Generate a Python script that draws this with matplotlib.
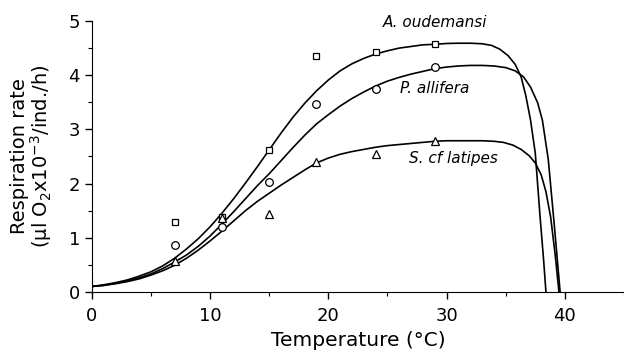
import matplotlib
matplotlib.use("Agg")
import matplotlib.pyplot as plt

# measured points
temp = [7, 11, 15, 19, 24, 29]
resp_oud = [1.29, 1.38, 2.62, 4.35, 4.43, 4.58]
resp_ali = [0.87, 1.20, 2.03, 3.47, 3.74, 4.15]
resp_lat = [0.57, 1.37, 1.44, 2.40, 2.55, 2.79]

# fitted curves
fit_x_oud = [0, 1, 2, 3, 4, 5, 6, 7, 8, 9, 10, 11, 12, 13, 14, 15, 16, 17, 18, 19, 20,
             21, 22, 23, 24, 25, 26, 27, 28, 29, 30, 31, 32, 33, 33.8, 34.5, 35.2, 35.8,
             36.3, 36.7, 37.1, 37.5, 37.9, 38.2, 38.4]
fit_y_oud = [0.10, 0.13, 0.17, 0.22, 0.29, 0.37, 0.48, 0.62, 0.79, 0.98, 1.20, 1.45, 1.72,
             2.01, 2.31, 2.62, 2.93, 3.22, 3.48, 3.71, 3.91, 4.08, 4.21, 4.31, 4.39, 4.45,
             4.50, 4.53, 4.56, 4.57, 4.585, 4.59, 4.59, 4.58, 4.55, 4.48, 4.36, 4.20, 3.97,
             3.62, 3.17, 2.56, 1.40, 0.60, 0.0]

fit_x_ali = [0, 1, 2, 3, 4, 5, 6, 7, 8, 9, 10, 11, 12, 13, 14, 15, 16, 17, 18, 19, 20,
             21, 22, 23, 24, 25, 26, 27, 28, 29, 30, 31, 32, 33, 34, 35, 35.8, 36.5, 37.1,
             37.7, 38.1, 38.6, 39.1, 39.6]
fit_y_ali = [0.10, 0.12, 0.16, 0.20, 0.26, 0.33, 0.43, 0.55, 0.68, 0.84, 1.03, 1.25, 1.48,
             1.72, 1.96, 2.18, 2.42, 2.66, 2.89, 3.10, 3.27, 3.43, 3.57, 3.69, 3.80, 3.89,
             3.96, 4.02, 4.07, 4.12, 4.15, 4.17, 4.18, 4.18, 4.17, 4.14, 4.08, 3.97, 3.78,
             3.49, 3.17, 2.44, 1.25, 0.0]

fit_x_lat = [0, 1, 2, 3, 4, 5, 6, 7, 8, 9, 10, 11, 12, 13, 14, 15, 16, 17, 18, 19, 20,
             21, 22, 23, 24, 25, 26, 27, 28, 29, 30, 31, 32, 33, 34, 34.8, 35.6, 36.3, 37,
             37.5, 38, 38.4, 38.8, 39.2, 39.5]
fit_y_lat = [0.10, 0.12, 0.15, 0.19, 0.24, 0.31, 0.39, 0.49, 0.62, 0.77, 0.94, 1.12, 1.31,
             1.50, 1.67, 1.82, 1.97, 2.11, 2.25, 2.38, 2.47, 2.54, 2.59, 2.63, 2.67, 2.70,
             2.72, 2.74, 2.76, 2.78, 2.79, 2.79, 2.79, 2.79, 2.78, 2.76, 2.71, 2.63, 2.51,
             2.38, 2.16, 1.85, 1.38, 0.65, 0.0]

plt.rcParams["font.family"] = "DejaVu Sans"

fig = plt.figure(figsize=(6.24, 3.5), dpi=100)
ax = fig.add_axes([0.147, 0.166, 0.853, 0.774])

for fx, fy in [(fit_x_oud, fit_y_oud), (fit_x_ali, fit_y_ali), (fit_x_lat, fit_y_lat)]:
    ax.plot(fx, fy, color="black", lw=1.2)

mk = dict(mfc="white", mec="black", mew=0.9, ls="none", zorder=3)
ax.plot(temp, resp_oud, marker="s", ms=5, **mk)
ax.plot(temp, resp_ali, marker="o", ms=5.5, **mk)
ax.plot(temp, resp_lat, marker="^", ms=5.5, **mk)

ax.text(24.6, 4.98, "A. oudemansi", style="italic", fontsize=11, va="center")
ax.text(26.1, 3.76, "P. allifera", style="italic", fontsize=11, va="center")
ax.text(26.8, 2.47, "S. cf latipes", style="italic", fontsize=11, va="center")

ax.set_xlim(0, 45)
ax.set_ylim(0, 5)
ax.set_xticks([0, 10, 20, 30, 40])
ax.set_xticks([5, 15, 25, 35, 45], minor=True)
ax.set_yticks([0, 1, 2, 3, 4, 5])
ax.set_yticks([0.5, 1.5, 2.5, 3.5, 4.5], minor=True)
ax.spines["top"].set_visible(False)
ax.spines["right"].set_visible(False)
ax.tick_params(which="major", length=5, width=1, labelsize=13, direction="out")
ax.tick_params(which="minor", length=3, width=0.8, direction="out")
ax.tick_params(axis="x", pad=6)

ax.set_xlabel("Temperature (\u00b0C)", fontsize=14.5)
ax.set_ylabel("Respiration rate\n(\u00b5l O$_2$x10$^{-3}$/ind./h)", fontsize=14, linespacing=1.0)
ax.yaxis.set_label_coords(-0.07, 0.5)

fig.savefig("out.png", dpi=100)
